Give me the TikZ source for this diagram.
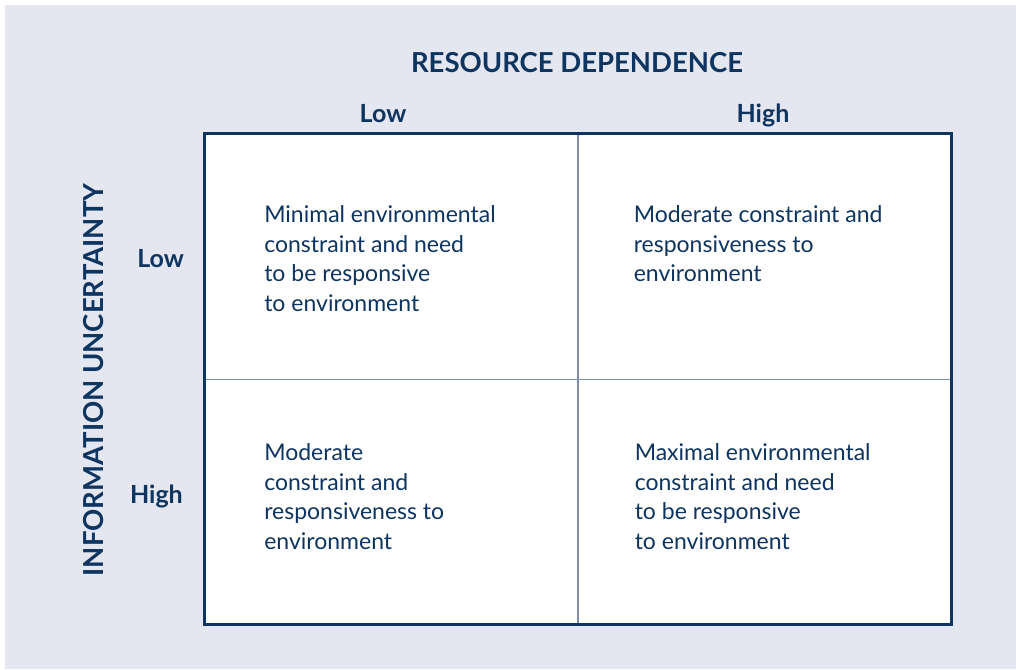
\documentclass[tikz,border=0pt]{standalone}
\usepackage{fontspec}
\setmainfont{Lato}
\usetikzlibrary{positioning}
\definecolor{navy}{HTML}{0E3460}
\definecolor{panel}{HTML}{E4E7F0}
\definecolor{rulecol}{HTML}{7F8FA8}
\tikzstyle{matrixpic}=[x=1pt,y=-1pt,text=navy,font=\fontsize{23}{29.5}\selectfont]
\tikzstyle{cell}=[rectangle,draw=none,fill=white,minimum width=373.5pt,minimum height=245pt,inner sep=0pt]
\tikzstyle{txt}=[align=left,inner sep=0pt]
\tikzstyle{head}=[inner sep=0pt,font=\bfseries\fontsize{27.5}{30}\selectfont]
\tikzstyle{tag}=[inner sep=0pt,font=\bfseries\fontsize{25}{28}\selectfont]

\begin{document}
\begin{tikzpicture}[matrixpic]
      \useasboundingbox (0,0) rectangle (1016,669);
      \fill[panel] (5,5) rectangle (1016,669);
      % the four cells
      \node[cell] (c11) at (391,256.5) {};
      \node[cell] (c12) at (764.5,256.5) {};
      \node[cell] (c21) at (391,501.5) {};
      \node[cell] (c22) at (764.5,501.5) {};
      \draw[rulecol,line width=1.2pt] (c11.north east) -- (c21.south east);
      \draw[rulecol,line width=1.2pt] (c11.south west) -- (c12.south east);
      \draw[navy,line width=3pt] (c11.north west) rectangle (c22.south east);
      % cell texts
      \node[txt,below right=72pt and 60pt of c11.north west,anchor=north west] (t11)
        {Minimal environmental\\constraint and need\\to be responsive\\to environment};
      \node[txt,below right=72pt and 56pt of c12.north west,anchor=north west] (t12)
        {Moderate constraint and\\responsiveness to\\environment};
      \node[txt,below right=65pt and 60pt of c21.north west,anchor=north west] (t21)
        {Moderate\\constraint and\\responsiveness to\\environment};
      \node[txt,below right=65pt and 57pt of c22.north west,anchor=north west] (t22)
        {Maximal environmental\\constraint and need\\to be responsive\\to environment};
      % axis labels
      \node[head,anchor=base] (rd) at (577,72) {RESOURCE DEPENDENCE};
      \node[tag,anchor=base] (clow) at (383,122) {Low};
      \node[tag,anchor=base] (chigh) at (763,122) {High};
      \node[tag,anchor=base east] (rlow) at (184,267) {Low};
      \node[tag,anchor=base east] (rhigh) at (183,503) {High};
      \node[head,rotate=90,anchor=base] (iu) at (103,380) {INFORMATION UNCERTAINTY};
\end{tikzpicture}
\end{document}
